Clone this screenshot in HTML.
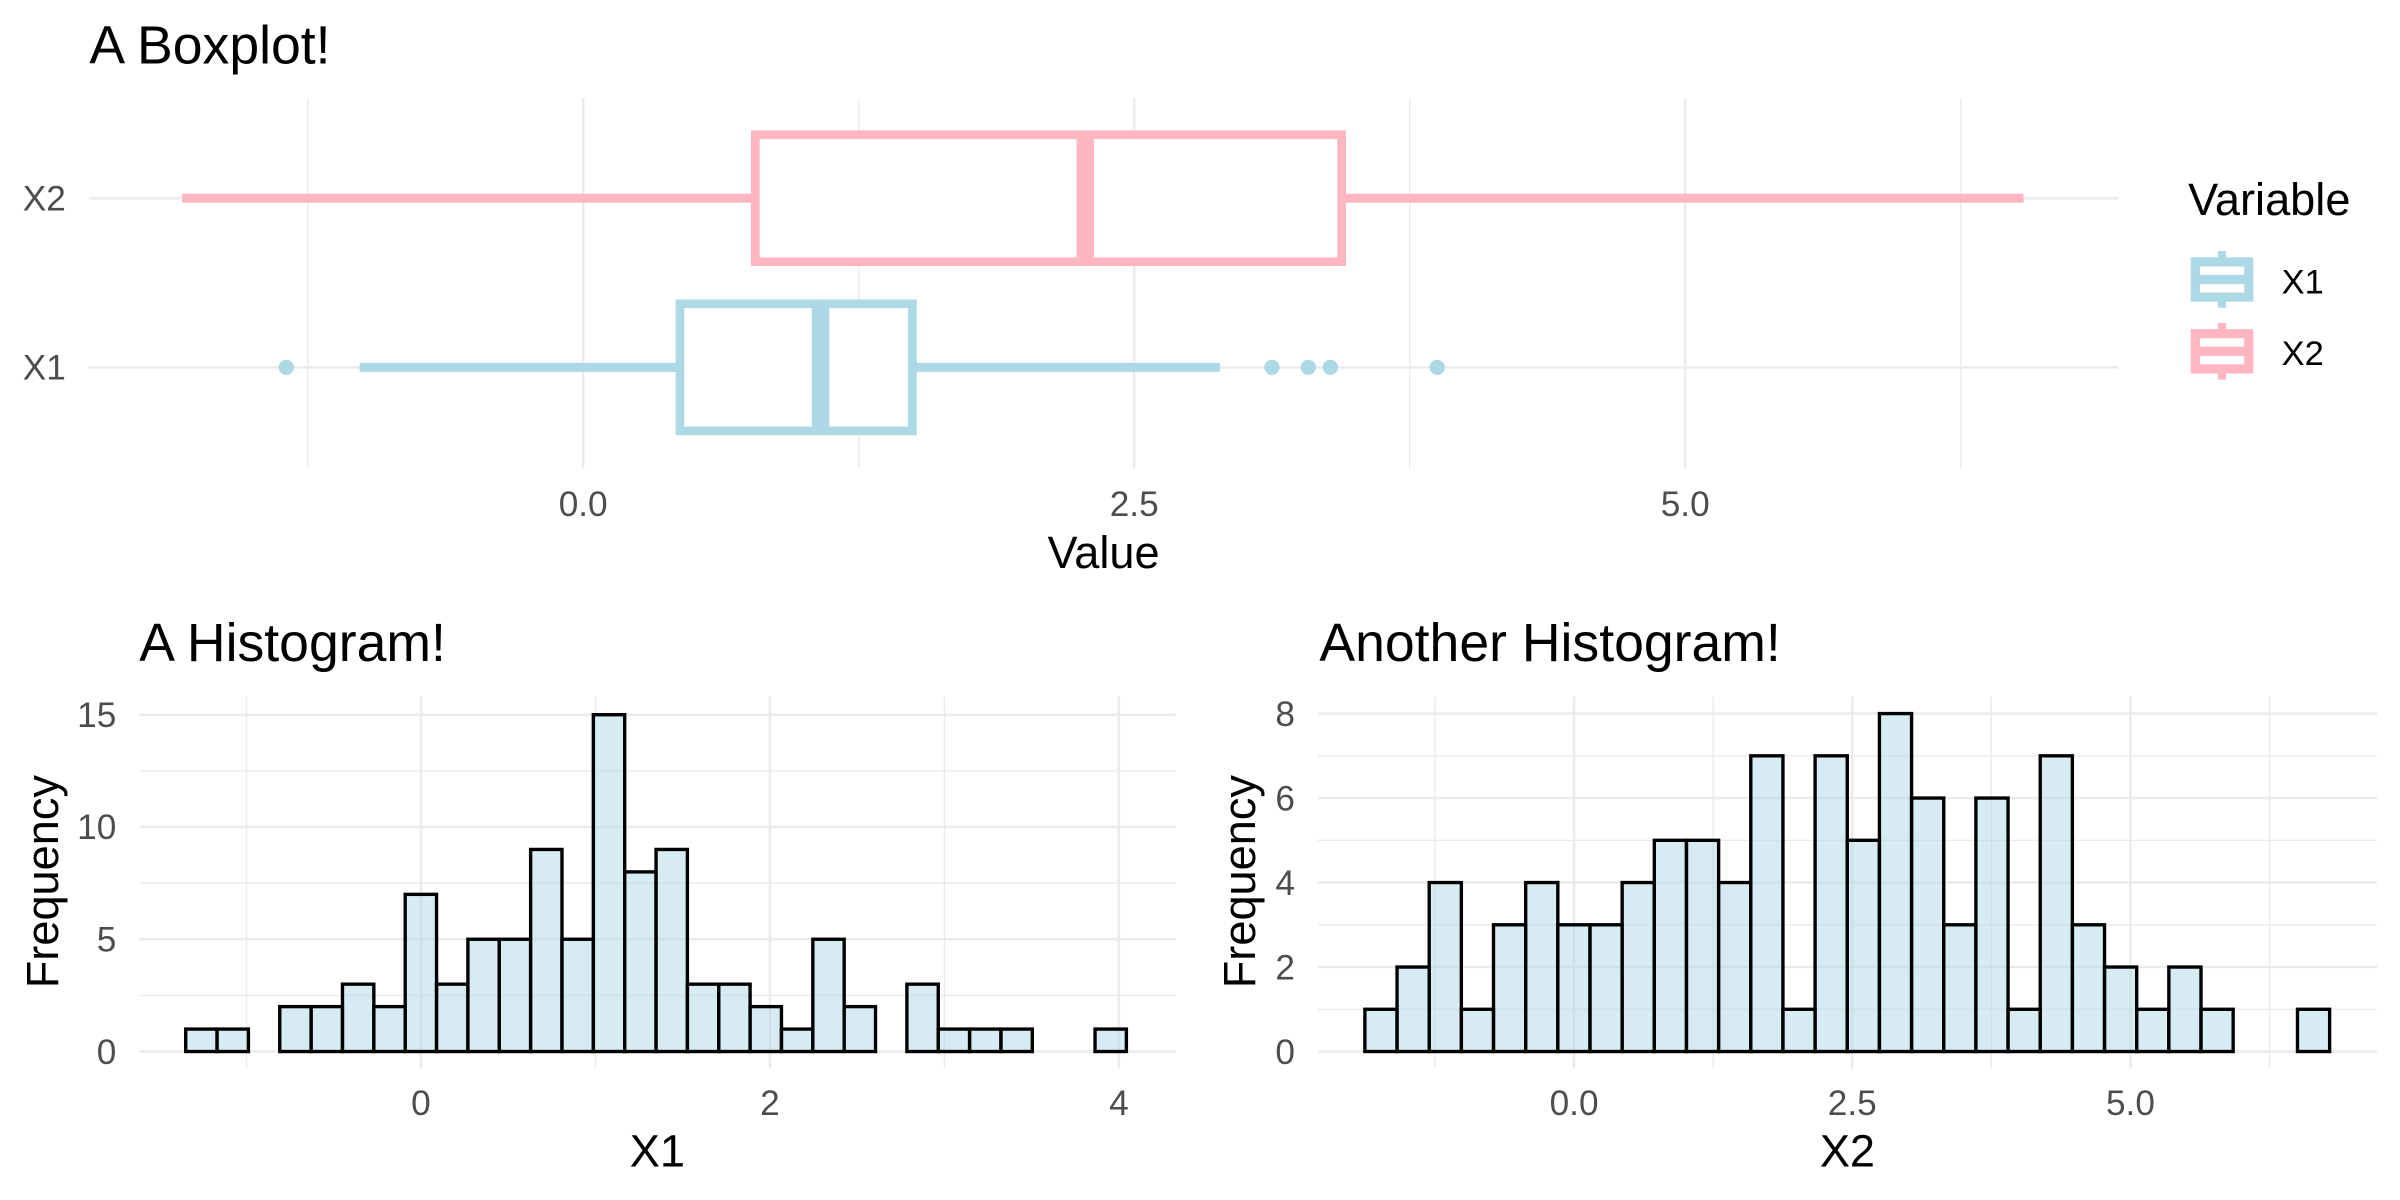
<!DOCTYPE html>
<html><head><meta charset="utf-8"><style>
html,body{margin:0;padding:0;background:#fff}
svg{display:block;font-family:"Liberation Sans",Arial,sans-serif}
</style></head><body>
<svg id="fig" width="2400" height="1200" viewBox="0 0 1568 784" xmlns="http://www.w3.org/2000/svg">
<rect width="1568" height="784" fill="#fff"/>
<g id="box"></g>
<g id="h1"></g>
<g id="h2"></g>
</svg>
<script>
// ---- data ----
const boxCategories = ["X1", "X2"];
const boxQ1 = [0.439, 0.781];
const boxMedian = [1.077, 2.278];
const boxQ3 = [1.494, 3.441];
const boxWhiskerLo = [-1.014, -1.82];
const boxWhiskerHi = [2.889, 6.535];
const x1Outliers = [-1.347, 3.125, 3.29, 3.39, 3.875];
const boxXTicks = [0, 2.5, 5];
const boxXTickLabels = ["0.0", "2.5", "5.0"];

const hist1Counts = [1,1,0,2,2,3,2,7,3,5,5,9,5,15,8,9,3,3,2,1,5,2,0,3,1,1,1,0,0,1];
const hist1Start = -1.348;
const hist1BinWidth = 0.1797;
const hist1XTicks = [0, 2, 4];
const hist1XTickLabels = ["0", "2", "4"];
const hist1YTicks = [0, 5, 10, 15];

const hist2Counts = [1,2,4,1,3,4,3,3,4,5,5,4,7,1,7,5,8,6,3,6,1,7,3,2,1,2,1,0,0,1];
const hist2Start = -1.88;
const hist2BinWidth = 0.289;
const hist2XTicks = [0, 2.5, 5];
const hist2XTickLabels = ["0.0", "2.5", "5.0"];
const hist2YTicks = [0, 2, 4, 6, 8];

const NS = "http://www.w3.org/2000/svg";
function mk(parent, tag, attrs, text) {
  const e = document.createElementNS(NS, tag);
  for (const k in attrs) e.setAttribute(k, attrs[k]);
  if (text !== undefined) e.textContent = text;
  parent.appendChild(e);
  return e;
}
const GRID = "#EBEBEB", TICKC = "#4D4D4D";
const PINK = "#FFB6C1", BLUE = "#ADD8E6";
const MAJW = 1.6, MINW = 0.9;

// ---------- Boxplot ----------
(function () {
  const g = document.getElementById("box");
  const bx = v => 381 + v * 144;
  const by = i => 240 - i * 110.5;
  const top = 64, bot = 306, left = 58, right = 1384;
  let t = mk(g, "text", {x: 58.4, y: 41.4, "font-size": 35, fill: "#000"}, "A Boxplot!");
  
  
  [-1.25, 1.25, 3.75, 6.25].forEach(v => {
    const l = mk(g, "line", {x1: bx(v), x2: bx(v), y1: top, y2: bot, stroke: GRID, "stroke-width": MINW});
    
    
  });
  boxXTicks.forEach((v, i) => {
    const l = mk(g, "line", {x1: bx(v), x2: bx(v), y1: top, y2: bot, stroke: GRID, "stroke-width": MAJW});
    
    
    const tx = mk(g, "text", {x: bx(v), y: 337, "font-size": 23, fill: TICKC, "text-anchor": "middle"}, boxXTickLabels[i]);
    
    
  });
  boxCategories.forEach((c, i) => {
    const l = mk(g, "line", {x1: left, x2: right, y1: by(i), y2: by(i), stroke: GRID, "stroke-width": MAJW});
    
    
    const tx = mk(g, "text", {x: 43, y: by(i) + 8, "font-size": 23, fill: TICKC, "text-anchor": "end"}, c);
    
    
  });
  boxCategories.forEach((c, i) => {
    const col = i === 0 ? BLUE : PINK;
    const y = by(i), h = 41.5;
    const bg = mk(g, "g", {});
    
    
    mk(bg, "line", {x1: bx(boxWhiskerLo[i]), x2: bx(boxQ1[i]), y1: y, y2: y, stroke: col, "stroke-width": 5.9});
    mk(bg, "line", {x1: bx(boxQ3[i]), x2: bx(boxWhiskerHi[i]), y1: y, y2: y, stroke: col, "stroke-width": 5.9});
    mk(bg, "rect", {x: bx(boxQ1[i]), y: y - h, width: bx(boxQ3[i]) - bx(boxQ1[i]), height: 2 * h, fill: "#fff", stroke: col, "stroke-width": 5.7});
    mk(bg, "line", {x1: bx(boxMedian[i]), x2: bx(boxMedian[i]), y1: y - h, y2: y + h, stroke: col, "stroke-width": 11.5});
  });
  x1Outliers.forEach(v => {
    const c = mk(g, "circle", {cx: bx(v), cy: by(0), r: 5, fill: BLUE});
    
    
  });
  t = mk(g, "text", {x: 721, y: 371, "font-size": 29.5, fill: "#000", "text-anchor": "middle"}, "Value");
  
  
  // legend
  t = mk(g, "text", {x: 1429.6, y: 140.5, "font-size": 29.5, fill: "#000"}, "Variable");
  
  
  [[BLUE, 168.1, "X1"], [PINK, 215, "X2"]].forEach(([col, y0, lab]) => {
    const lg = mk(g, "g", {});
    
    
    mk(lg, "line", {x1: 1451.7, x2: 1451.7, y1: y0 - 4, y2: y0 + 33, stroke: col, "stroke-width": 5.4});
    mk(lg, "rect", {x: 1434.3, y: y0 + 3, width: 34.9, height: 23, fill: "#fff", stroke: col, "stroke-width": 6});
    mk(lg, "line", {x1: 1434.3, x2: 1469.2, y1: y0 + 14.5, y2: y0 + 14.5, stroke: col, "stroke-width": 6});
    mk(lg, "text", {x: 1490.7, y: y0 + 23.5, "font-size": 22.5, fill: "#000"}, lab);
  });
})();

// ---------- Histograms ----------
function drawHist(gid, cfg) {
  const g = document.getElementById(gid);
  const sx = v => cfg.x0 + v * cfg.xs;
  const sy = v => 687 - v * cfg.ys;
  const top = 455, bot = 698;
  let t = mk(g, "text", {x: cfg.titleX, y: 432, "font-size": 35, fill: "#000"}, cfg.title);
  
  
  cfg.minorY.forEach(v => {
    const l = mk(g, "line", {x1: cfg.left, x2: cfg.right, y1: sy(v), y2: sy(v), stroke: GRID, "stroke-width": MINW});
    
    
  });
  cfg.minorX.forEach(v => {
    const l = mk(g, "line", {x1: sx(v), x2: sx(v), y1: top, y2: bot, stroke: GRID, "stroke-width": MINW});
    
    
  });
  cfg.yTicks.forEach(v => {
    const l = mk(g, "line", {x1: cfg.left, x2: cfg.right, y1: sy(v), y2: sy(v), stroke: GRID, "stroke-width": MAJW});
    
    
    const tx = mk(g, "text", {x: cfg.left - 15, y: sy(v) + 8, "font-size": 23, fill: TICKC, "text-anchor": "end"}, String(v));
    
    
  });
  cfg.xTicks.forEach((v, i) => {
    const l = mk(g, "line", {x1: sx(v), x2: sx(v), y1: top, y2: bot, stroke: GRID, "stroke-width": MAJW});
    
    
    const tx = mk(g, "text", {x: sx(v), y: 728.5, "font-size": 23, fill: TICKC, "text-anchor": "middle"}, cfg.xLabels[i]);
    
    
  });
  cfg.counts.forEach((c, i) => {
    const a = cfg.start + i * cfg.bw;
    const r = mk(g, "rect", {x: sx(a), y: sy(c), width: cfg.bw * cfg.xs, height: sy(0) - sy(c),
      fill: "rgba(173,216,230,0.5)", stroke: "#000", "stroke-width": 2.2});
    
    
  });
  t = mk(g, "text", {x: (cfg.left + cfg.right) / 2, y: 762, "font-size": 29.5, fill: "#000", "text-anchor": "middle"}, cfg.xTitle);
  
  
  t = mk(g, "text", {x: 0, y: 0, "font-size": 29.5, fill: "#000", "text-anchor": "middle",
    transform: "translate(" + cfg.yTitleX + ",576) rotate(-90)"}, "Frequency");
  
  
}
drawHist("h1", {title: "A Histogram!", titleX: 91, x0: 275, xs: 114, ys: 14.67, left: 91, right: 768, yTitleX: 38,
  counts: hist1Counts, start: hist1Start, bw: hist1BinWidth, xTicks: hist1XTicks, xLabels: hist1XTickLabels,
  yTicks: hist1YTicks, minorX: [-1, 1, 3], minorY: [2.5, 7.5, 12.5], xTitle: "X1"});
drawHist("h2", {title: "Another Histogram!", titleX: 862, x0: 1028.4, xs: 72.7, ys: 27.6, left: 861, right: 1553, yTitleX: 820,
  counts: hist2Counts, start: hist2Start, bw: hist2BinWidth, xTicks: hist2XTicks, xLabels: hist2XTickLabels,
  yTicks: hist2YTicks, minorX: [-1.25, 1.25, 3.75, 6.25], minorY: [1, 3, 5, 7], xTitle: "X2"});
</script>
</body></html>
